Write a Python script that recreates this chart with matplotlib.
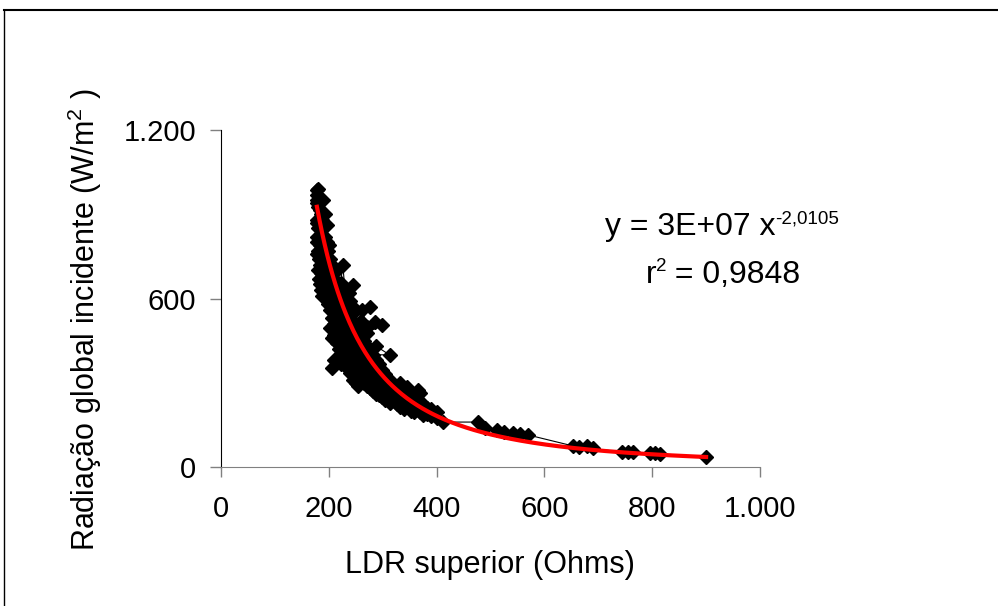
import numpy as np
import matplotlib
matplotlib.use("Agg")
import matplotlib.pyplot as plt
from matplotlib.lines import Line2D

plt.rcParams['font.family'] = ['Liberation Sans', 'DejaVu Sans']
plt.rcParams['mathtext.fontset'] = 'custom'
plt.rcParams['mathtext.rm'] = 'Liberation Sans'

# LDR superior (Ohms) vs radiacao global incidente (W/m2)
# (kept in a snake order so the thin joining line stays inside the cloud)
ldr = [178, 178, 178, 178,
       179, 179, 179, 179, 179,
       180, 180, 180, 180, 180,
       182, 182, 182, 182, 182,
       184, 184, 184, 184, 184,
       186, 186, 186, 186, 186,
       188, 188, 188, 188, 188,
       190, 190, 190, 190, 190, 193,
       193, 193, 193, 193,
       196, 196, 196, 196, 196,
       200, 199, 199, 199, 199,
       202, 202, 202, 202, 202,
       206, 206, 206, 206, 206,
       210, 210, 210, 210, 210,
       215, 215, 215, 215, 215, 215,
       218, 218, 218, 218, 218,
       222, 222, 222, 222, 222, 222, 210, 206,
       226, 226, 226, 226, 226, 222, 226,
       230, 230, 230, 230, 230, 230,
       235, 235, 235, 235, 235, 238, 245,
       240, 240, 240, 240, 240, 240,
       245, 245, 245, 245,
       250, 250, 250, 250, 250, 250,
       255, 255, 255, 255, 255, 262, 276,
       260, 260, 260, 260, 260,
       265, 265, 265, 265, 271, 285, 299,
       271, 271, 271, 271, 271,
       276, 276, 276, 276, 288, 313,
       282, 282, 282, 282,
       288, 288, 288, 288,
       294, 294, 294, 294,
       299, 299, 299, 299,
       305, 305, 305, 305,
       313, 313, 313,
       320, 320, 320,
       326, 326, 326, 332,
       332, 332, 332,
       340, 340, 340,
       345, 345, 345,
       352, 352, 352,
       358, 358, 358,
       365, 365, 365,
       369, 369, 369,
       375, 375, 375,
       382, 382, 390, 390, 400, 400,
       412, 477, 490, 512, 525, 542, 555, 570,
       653, 665, 679, 690, 744, 755, 765, 796, 805, 815, 900]
radiacao = [985, 940, 880, 820,
            760, 800, 870, 950, 970,
            990, 925, 850, 770, 700,
            670, 740, 815, 880, 945,
            915, 860, 790, 720, 650,
            630, 690, 760, 830, 900,
            880, 810, 740, 660, 610,
            640, 720, 790, 850, 950, 900,
            820, 760, 700, 620,
            600, 670, 730, 800, 860,
            790, 770, 700, 640, 580,
            495, 560, 610, 680, 740,
            720, 650, 590, 530, 460,
            470, 510, 570, 630, 690,
            700, 660, 600, 545, 490, 440,
            420, 470, 520, 580, 640,
            610, 560, 500, 450, 405, 365, 380, 352,
            390, 430, 480, 530, 590, 655, 719,
            630, 570, 510, 460, 410, 370,
            350, 395, 440, 490, 550, 620, 648,
            590, 530, 470, 420, 375, 335,
            310, 400, 450, 510,
            560, 500, 440, 390, 350, 300,
            290, 330, 375, 420, 480, 560, 570,
            520, 470, 410, 360, 315,
            300, 345, 395, 450, 500, 515, 506,
            477, 430, 380, 330, 290,
            280, 320, 365, 410, 430, 399,
            400, 350, 310, 270,
            260, 295, 335, 380,
            365, 320, 285, 255,
            250, 270, 305, 345,
            330, 290, 260, 240,
            228, 275, 310,
            295, 265, 240,
            225, 250, 280, 299,
            265, 235, 215,
            205, 235, 260,
            285, 245, 215,
            200, 225, 255,
            240, 215, 195,
            205, 230, 274,
            263, 220, 195,
            185, 200, 225,
            210, 190, 180, 205, 195, 175,
            160, 160, 140, 132, 125, 121, 117, 114,
            75, 70, 75, 66, 53, 55, 52, 50, 49, 47, 36]

# power trendline y = a * x^b (a is shown rounded as 3E+07 in the chart)
a_fit = 3.1e7
b_fit = -2.0105

fig = plt.figure(figsize=(9.98, 6.06), dpi=100)
ax = fig.add_axes([221/998, 1 - 467/606, 539/998, 337/606])

ax.plot(ldr, radiacao, color='black', lw=0.8, marker='D', ms=7.2,
        markerfacecolor='black', markeredgecolor='black', zorder=2)

xs = np.linspace(min(ldr), max(ldr), 300)
ax.plot(xs, a_fit * xs ** b_fit, color='#ff0000', lw=3, zorder=3)

ax.set_xlim(0, 1000)
ax.set_ylim(0, 1200)
ax.set_xticks([0, 200, 400, 600, 800, 1000])
ax.set_xticklabels(['0', '200', '400', '600', '800', '1.000'])
ax.set_yticks([0, 600, 1200])
ax.set_yticklabels(['0', '600', '1.200'])

for s in ['top', 'right']:
    ax.spines[s].set_visible(False)
ax.spines['left'].set_color('black')
ax.spines['bottom'].set_color('#808080')
ax.tick_params(axis='y', direction='out', length=8, width=1, color='#808080',
               labelsize=21, pad=10)
ax.tick_params(axis='x', direction='out', length=7, width=1, color='#808080',
               labelsize=21, pad=13)

fig.text(490/998, 1 - 565/606, 'LDR superior (Ohms)', ha='center', va='center', fontsize=22)
fig.text(85/998, 1 - 320/606, r'Radiação global incidente (W/m$\mathregular{^{2}}$ )',
         rotation=90, ha='center', va='center', fontsize=22)


# trendline equation: pieces chained by their rendered widths, then centred
def text_row(pieces, cx, base_px):
    r = fig.canvas.get_renderer()
    arts = []
    x = 0
    for s, size, rise in pieces:
        t = fig.text(0, 0, s, ha='left', va='baseline', fontsize=size)
        w = t.get_window_extent(r).width
        arts.append((t, x, rise))
        x += w
    x0 = cx - x / 2
    for t, off, rise in arts:
        t.set_position(((x0 + off) / 998, 1 - (base_px - rise) / 606))


text_row([('y = 3E+07 x', 23, 0), ('-2,0105', 13.5, 12)], 722, 235)
text_row([('r', 23, 0), ('2', 13.5, 12), (' = 0,9848', 23, 0)], 723, 283)

# outer chart frame
fig.add_artist(Line2D([4/998, 1], [1 - 10/606, 1 - 10/606], color='black', lw=1.5,
                      transform=fig.transFigure))
fig.add_artist(Line2D([4/998, 4/998], [0, 1 - 10/606], color='black', lw=1.0,
                      transform=fig.transFigure))

fig.savefig('out.png', dpi=100)
